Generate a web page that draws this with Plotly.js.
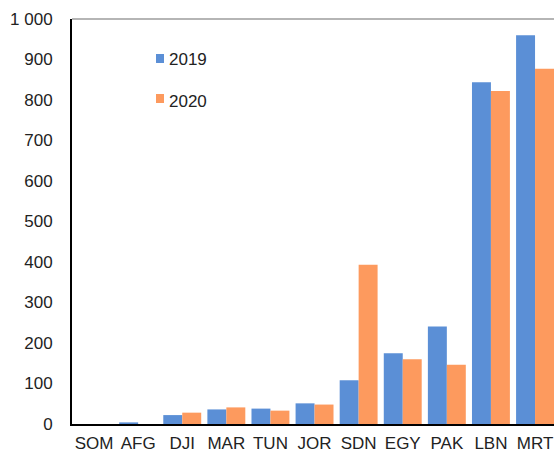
<!DOCTYPE html>
<html><head><meta charset="utf-8">
<script src="https://cdn.plot.ly/plotly-3.0.1.min.js"></script>
<style>html,body{margin:0;padding:0;background:#fff}#c{width:554px;height:453px}</style>
</head><body><div id="c"></div>
<script>
const categories = ["SOM","AFG","DJI","MAR","TUN","JOR","SDN","EGY","PAK","LBN","MRT"];
const values2019 = [0, 4, 22, 36, 38, 51, 108, 175, 241, 844, 960];
const values2020 = [0, 0, 28, 41, 33, 48, 393, 160, 146, 822, 877];
const seriesNames = ["2019","2020"];
const seriesColors = ["#5b8fd6","#fd9a5e"];

const data = [
  {type:"bar", x:categories, y:values2019, name:seriesNames[0],
   marker:{color:seriesColors[0], line:{width:0}}},
  {type:"bar", x:categories, y:values2020, name:seriesNames[1],
   marker:{color:seriesColors[1], line:{width:0}}}
];
// legend drawn as small squares + labels (Excel-style)
const legY = [[0.8914,0.9136],[0.7926,0.8148]];
const legTextY = [0.901, 0.797];
const shapes = [{type:"line", xref:"paper", yref:"paper", x0:0, x1:1, y0:1, y1:1,
    line:{color:"#b5b5b5", width:2}}];
const annotations = [];
seriesNames.forEach((n,i)=>{
  shapes.push({type:"rect", xref:"paper", yref:"paper", x0:0.1743, x1:0.1909,
    y0:legY[i][0], y1:legY[i][1], fillcolor:seriesColors[i], line:{width:0}});
  annotations.push({xref:"paper", yref:"paper", x:0.197, y:legTextY[i], xanchor:"left",
    yanchor:"middle", text:n, showarrow:false, font:{size:17, color:"#222"}});
});
const layout = {
  width:554, height:453,
  margin:{l:72, r:0, t:19, b:29},
  paper_bgcolor:"#fff", plot_bgcolor:"#fff",
  font:{family:"Liberation Sans, Arial, sans-serif", color:"#222", size:17},
  separators:". ",
  barmode:"group", bargap:0.14, bargroupgap:0,
  showlegend:false,
  xaxis:{type:"category", range:[-0.5, 10.43], showline:true, linecolor:"#000", linewidth:2,
    ticks:"", showgrid:false, tickfont:{size:17}, ticklabelstandoff:3, fixedrange:true},
  yaxis:{range:[0,1000], dtick:100, showline:true, linecolor:"#000", linewidth:2,
    ticks:"", showgrid:false, zeroline:false, tickfont:{size:17}, ticklabelstandoff:14,
    tickformat:",d"},
  shapes:shapes,
  annotations:annotations
};
Plotly.newPlot("c", data, layout, {displayModeBar:false, staticPlot:true});
</script></body></html>
